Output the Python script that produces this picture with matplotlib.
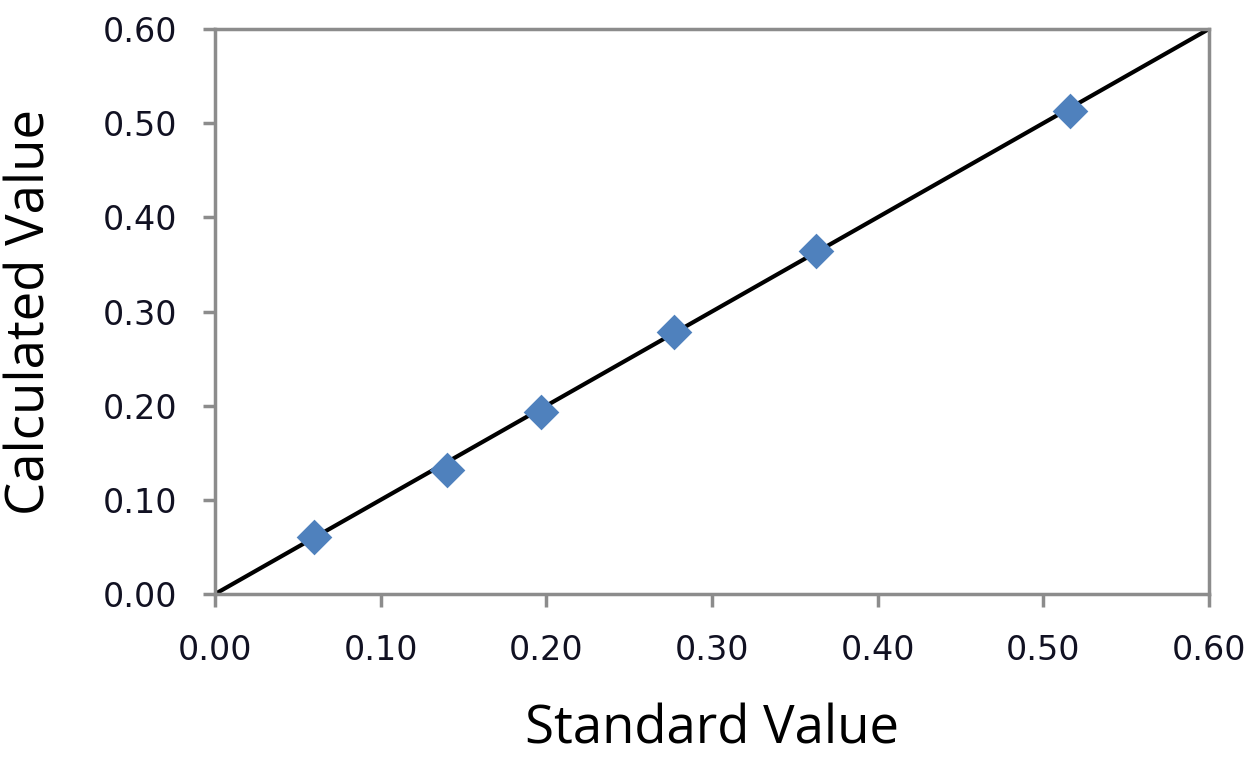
import numpy as np
import matplotlib.pyplot as plt

standard = [0.060, 0.140, 0.197, 0.277, 0.363, 0.516]
calculated = [0.061, 0.132, 0.193, 0.278, 0.364, 0.513]
ticks = [0.0, 0.1, 0.2, 0.3, 0.4, 0.5, 0.6]

fig = plt.figure(figsize=(12.47, 7.61), dpi=100)
ax = fig.add_axes([0.1724, 0.2194, 0.7971, 0.7425])

fit_x = np.array([0.0, 0.6])
ax.plot(fit_x, fit_x, color='black', lw=3, zorder=2)
ax.scatter(standard, calculated, marker='D', s=330, color='#4F81BD', zorder=3, linewidths=0)

ax.set_xlim(0, 0.6)
ax.set_ylim(0, 0.6)
ax.set_xticks(ticks)
ax.set_yticks(ticks)
ax.set_xticklabels([f'{t:.2f}' for t in ticks])
ax.set_yticklabels([f'{t:.2f}' for t in ticks])

for s in ax.spines.values():
    s.set_color('#8c8c8c')
    s.set_linewidth(2.5)
ax.tick_params(direction='out', length=9, width=2.5, color='#8c8c8c',
               labelsize=24, labelcolor='#111122')
ax.tick_params(axis='x', pad=20)
ax.tick_params(axis='y', pad=18)

ax.set_xlabel('Standard Value', fontsize=38, family='Open Sans', labelpad=26)
ax.set_ylabel('Calculated Value', fontsize=38, family='Open Sans', labelpad=33)

fig.savefig('out.png', dpi=100)
